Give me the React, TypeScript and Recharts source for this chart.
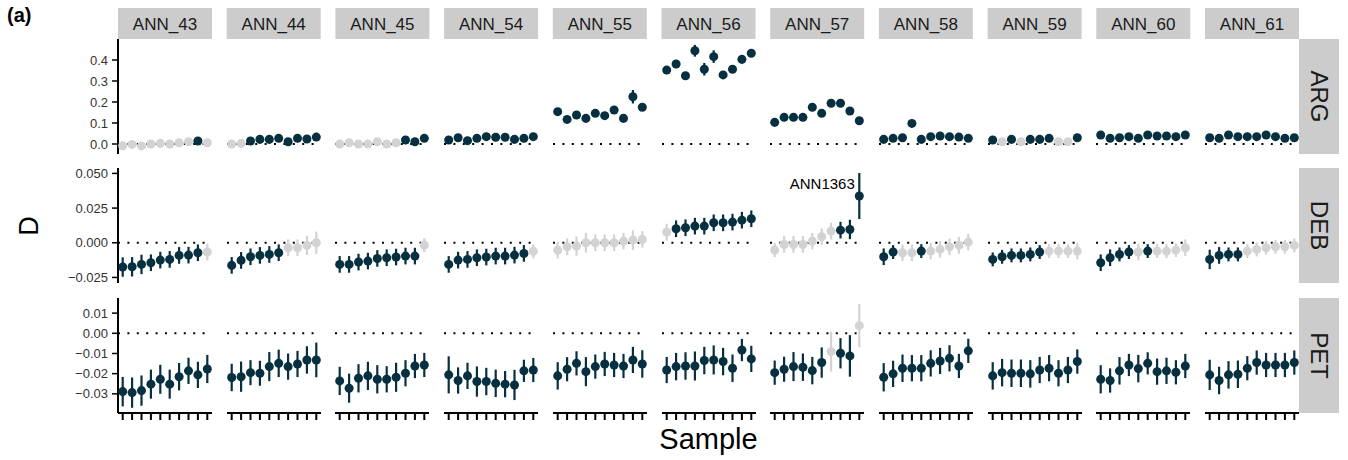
import {
  ErrorBar,
  ReferenceDot,
  ReferenceLine,
  Scatter,
  ScatterChart,
  XAxis,
  YAxis,
} from 'recharts'

const samples = ['ANN_43', 'ANN_44', 'ANN_45', 'ANN_54', 'ANN_55', 'ANN_56', 'ANN_57', 'ANN_58', 'ANN_59', 'ANN_60', 'ANN_61']
const groups = ['ARG', 'DEB', 'PET']

// D estimates, one list of 10 per sample
const argD = [
  [-0.008, -0.002, -0.009, 0.0, 0.003, 0.0, 0.006, 0.011, 0.014, 0.006],
  [0.0, 0.003, 0.014, 0.022, 0.022, 0.027, 0.011, 0.027, 0.024, 0.033],
  [0.0, 0.006, 0.0, 0.0, 0.011, 0.0, 0.006, 0.019, 0.011, 0.027],
  [0.019, 0.03, 0.016, 0.027, 0.035, 0.032, 0.032, 0.022, 0.027, 0.035],
  [0.154, 0.117, 0.138, 0.122, 0.146, 0.135, 0.162, 0.122, 0.225, 0.175],
  [0.352, 0.381, 0.325, 0.444, 0.356, 0.416, 0.329, 0.356, 0.403, 0.432],
  [0.103, 0.127, 0.127, 0.127, 0.175, 0.146, 0.194, 0.194, 0.157, 0.111],
  [0.022, 0.027, 0.03, 0.098, 0.022, 0.035, 0.038, 0.035, 0.033, 0.027],
  [0.019, 0.011, 0.022, 0.011, 0.022, 0.022, 0.027, 0.011, 0.011, 0.03],
  [0.043, 0.027, 0.03, 0.035, 0.027, 0.043, 0.038, 0.038, 0.035, 0.043],
  [0.03, 0.027, 0.043, 0.035, 0.035, 0.035, 0.043, 0.035, 0.027, 0.03],
]
const argE = [
  [0.008, 0.008, 0.008, 0.008, 0.008, 0.008, 0.008, 0.008, 0.008, 0.008],
  [0.008, 0.008, 0.008, 0.008, 0.008, 0.008, 0.008, 0.008, 0.008, 0.008],
  [0.008, 0.008, 0.008, 0.008, 0.008, 0.008, 0.008, 0.008, 0.008, 0.008],
  [0.008, 0.008, 0.008, 0.008, 0.008, 0.008, 0.008, 0.008, 0.008, 0.008],
  [0.012, 0.01, 0.012, 0.01, 0.012, 0.012, 0.012, 0.012, 0.032, 0.015],
  [0.015, 0.015, 0.012, 0.028, 0.03, 0.03, 0.015, 0.015, 0.015, 0.012],
  [0.01, 0.01, 0.01, 0.01, 0.012, 0.012, 0.012, 0.012, 0.012, 0.01],
  [0.008, 0.008, 0.008, 0.016, 0.008, 0.008, 0.008, 0.008, 0.008, 0.008],
  [0.008, 0.008, 0.008, 0.008, 0.008, 0.008, 0.008, 0.008, 0.008, 0.008],
  [0.008, 0.008, 0.008, 0.008, 0.008, 0.008, 0.008, 0.008, 0.008, 0.008],
  [0.008, 0.008, 0.008, 0.008, 0.008, 0.008, 0.008, 0.008, 0.008, 0.008],
]
const argSig = [
  [0, 0, 0, 0, 0, 0, 0, 0, 1, 0],
  [0, 0, 1, 1, 1, 1, 1, 1, 1, 1],
  [0, 0, 0, 0, 0, 0, 0, 1, 1, 1],
  [1, 1, 1, 1, 1, 1, 1, 1, 1, 1],
  [1, 1, 1, 1, 1, 1, 1, 1, 1, 1],
  [1, 1, 1, 1, 1, 1, 1, 1, 1, 1],
  [1, 1, 1, 1, 1, 1, 1, 1, 1, 1],
  [1, 1, 1, 1, 1, 1, 1, 1, 1, 1],
  [1, 0, 1, 0, 1, 1, 1, 0, 0, 1],
  [1, 1, 1, 1, 1, 1, 1, 1, 1, 1],
  [1, 1, 1, 1, 1, 1, 1, 1, 1, 1],
]

const debD = [
  [-0.0175, -0.0173, -0.0156, -0.0144, -0.0125, -0.012, -0.0091, -0.0089, -0.0072, -0.0067],
  [-0.0163, -0.0127, -0.0101, -0.0091, -0.0084, -0.0072, -0.0036, -0.0036, -0.0019, 0.0],
  [-0.0156, -0.0156, -0.0139, -0.0132, -0.0113, -0.0108, -0.0103, -0.0096, -0.0096, -0.0017],
  [-0.0156, -0.0125, -0.012, -0.0108, -0.0103, -0.0096, -0.0096, -0.0089, -0.0077, -0.0062],
  [-0.0053, -0.0029, -0.0024, 0.0, 0.0, 0.0, 0.0, 0.0012, 0.0019, 0.0024],
  [0.0077, 0.0101, 0.0108, 0.012, 0.012, 0.0144, 0.0144, 0.0149, 0.0163, 0.0173],
  [-0.0053, -0.0012, -0.0012, -0.0012, 0.0012, 0.0043, 0.0084, 0.0091, 0.0096, 0.0337],
  [-0.0101, -0.0067, -0.0072, -0.0072, -0.006, -0.006, -0.0048, -0.0029, -0.0019, 0.0005],
  [-0.012, -0.0101, -0.0091, -0.0091, -0.0084, -0.0067, -0.006, -0.006, -0.006, -0.006],
  [-0.0144, -0.0108, -0.0084, -0.0067, -0.0067, -0.006, -0.006, -0.006, -0.0053, -0.0036],
  [-0.012, -0.0091, -0.0084, -0.0084, -0.006, -0.0048, -0.0036, -0.0029, -0.0029, -0.0019],
]
const debE = [
  [0.007, 0.007, 0.007, 0.006, 0.006, 0.006, 0.006, 0.006, 0.006, 0.006],
  [0.006, 0.006, 0.006, 0.006, 0.006, 0.006, 0.006, 0.006, 0.007, 0.008],
  [0.006, 0.006, 0.006, 0.006, 0.006, 0.006, 0.006, 0.006, 0.006, 0.005],
  [0.006, 0.006, 0.006, 0.006, 0.006, 0.006, 0.006, 0.006, 0.006, 0.005],
  [0.006, 0.006, 0.007, 0.007, 0.006, 0.006, 0.006, 0.006, 0.007, 0.006],
  [0.006, 0.006, 0.006, 0.006, 0.006, 0.006, 0.006, 0.006, 0.006, 0.006],
  [0.005, 0.006, 0.006, 0.006, 0.006, 0.006, 0.006, 0.006, 0.007, 0.0166],
  [0.006, 0.005, 0.006, 0.006, 0.005, 0.006, 0.006, 0.006, 0.006, 0.006],
  [0.005, 0.005, 0.005, 0.005, 0.005, 0.005, 0.005, 0.005, 0.005, 0.006],
  [0.006, 0.006, 0.005, 0.005, 0.006, 0.005, 0.005, 0.005, 0.005, 0.006],
  [0.007, 0.006, 0.005, 0.005, 0.005, 0.005, 0.005, 0.005, 0.005, 0.005],
]
const debSig = [
  [1, 1, 1, 1, 1, 1, 1, 1, 1, 0],
  [1, 1, 1, 1, 1, 1, 0, 0, 0, 0],
  [1, 1, 1, 1, 1, 1, 1, 1, 1, 0],
  [1, 1, 1, 1, 1, 1, 1, 1, 1, 0],
  [0, 0, 0, 0, 0, 0, 0, 0, 0, 0],
  [0, 1, 1, 1, 1, 1, 1, 1, 1, 1],
  [0, 0, 0, 0, 0, 0, 0, 1, 1, 1],
  [1, 1, 0, 0, 1, 0, 0, 0, 0, 0],
  [1, 1, 1, 1, 1, 1, 0, 0, 0, 0],
  [1, 1, 1, 1, 0, 1, 0, 0, 0, 0],
  [1, 1, 1, 1, 0, 0, 0, 0, 0, 0],
]

const petD = [
  [-0.0289, -0.0294, -0.0284, -0.0252, -0.0228, -0.0252, -0.0215, -0.0186, -0.0206, -0.0177],
  [-0.0219, -0.0215, -0.0195, -0.0198, -0.0165, -0.0149, -0.0165, -0.0152, -0.0132, -0.0132],
  [-0.0236, -0.0272, -0.0223, -0.0211, -0.0228, -0.0228, -0.0218, -0.0198, -0.0162, -0.0157],
  [-0.0206, -0.0234, -0.0211, -0.0239, -0.0239, -0.0248, -0.0252, -0.0256, -0.0186, -0.0182],
  [-0.0211, -0.0178, -0.0149, -0.019, -0.0165, -0.0152, -0.0157, -0.0162, -0.0132, -0.0152],
  [-0.0182, -0.0165, -0.0162, -0.0162, -0.0135, -0.0132, -0.014, -0.0173, -0.0083, -0.0127],
  [-0.0195, -0.0178, -0.0165, -0.0168, -0.0185, -0.0145, -0.0091, -0.0099, -0.0112, 0.0038],
  [-0.0218, -0.0201, -0.0173, -0.0173, -0.0173, -0.0149, -0.0137, -0.0124, -0.0162, -0.0087],
  [-0.0211, -0.0195, -0.0198, -0.0198, -0.0201, -0.0182, -0.0173, -0.0198, -0.0182, -0.014],
  [-0.0228, -0.0234, -0.0186, -0.0157, -0.0175, -0.0149, -0.019, -0.0186, -0.0193, -0.0162],
  [-0.0206, -0.0234, -0.0206, -0.0203, -0.0173, -0.0145, -0.0157, -0.0157, -0.0157, -0.0145],
]
const petE = [
  [0.0073, 0.0075, 0.0075, 0.0072, 0.0072, 0.0072, 0.0068, 0.0065, 0.0065, 0.007],
  [0.0068, 0.0075, 0.0062, 0.0062, 0.0072, 0.0068, 0.0065, 0.0065, 0.0068, 0.0086],
  [0.007, 0.0072, 0.007, 0.007, 0.007, 0.0065, 0.0072, 0.0065, 0.006, 0.006],
  [0.0092, 0.0065, 0.0065, 0.0075, 0.0068, 0.0068, 0.0065, 0.0075, 0.0055, 0.006],
  [0.0068, 0.006, 0.006, 0.0072, 0.006, 0.006, 0.006, 0.006, 0.0065, 0.0068],
  [0.0065, 0.0068, 0.0068, 0.0072, 0.0068, 0.0072, 0.0068, 0.0068, 0.0055, 0.0065],
  [0.006, 0.0062, 0.0072, 0.0068, 0.0068, 0.0075, 0.0099, 0.0075, 0.0103, 0.0107],
  [0.007, 0.0065, 0.0068, 0.0065, 0.0065, 0.0065, 0.0065, 0.0065, 0.006, 0.006],
  [0.0068, 0.0068, 0.0068, 0.0068, 0.0068, 0.0065, 0.0065, 0.0065, 0.0065, 0.006],
  [0.007, 0.006, 0.0068, 0.0055, 0.0068, 0.0055, 0.0065, 0.0065, 0.006, 0.006],
  [0.0075, 0.0068, 0.0068, 0.0068, 0.006, 0.006, 0.006, 0.006, 0.006, 0.006],
]
const petSig = [
  [1, 1, 1, 1, 1, 1, 1, 1, 1, 1],
  [1, 1, 1, 1, 1, 1, 1, 1, 1, 1],
  [1, 1, 1, 1, 1, 1, 1, 1, 1, 1],
  [1, 1, 1, 1, 1, 1, 1, 1, 1, 1],
  [1, 1, 1, 1, 1, 1, 1, 1, 1, 1],
  [1, 1, 1, 1, 1, 1, 1, 1, 1, 1],
  [1, 1, 1, 1, 1, 1, 0, 1, 1, 0],
  [1, 1, 1, 1, 1, 1, 1, 1, 1, 1],
  [1, 1, 1, 1, 1, 1, 1, 1, 1, 1],
  [1, 1, 1, 1, 1, 1, 1, 1, 1, 1],
  [1, 1, 1, 1, 1, 1, 1, 1, 1, 1],
]

const yDomains = [
  [-0.0476, 0.5],
  [-0.029, 0.0539],
  [-0.0395, 0.0175],
]
const yTicks = [
  [0, 0.1, 0.2, 0.3, 0.4],
  [-0.025, 0, 0.025, 0.05],
  [-0.03, -0.02, -0.01, 0, 0.01],
]
const yDigits = [1, 3, 2]
const sampleTicks = [0, 1, 2, 3, 4, 5, 6, 7, 8, 9]

const flagged = { row: 1, col: 6, idx: 9, text: 'ANN1363' }

const DARK = '#06303F'
const GREY = '#D3D3D3'
const FONT = '"Liberation Sans", Arial, Helvetica, sans-serif'

const LEFT0 = 118
const PITCH = 108.7
const PANEL_W = 94
const ROW_TOP = [39, 168, 298]
const ROW_H = 115
const AXIS_W = 60
const XAXIS_H = 12
const PAD = 10

const allD = [argD, debD, petD]
const allE = [argE, debE, petE]
const allSig = [argSig, debSig, petSig]

function Panel({ row, col }: { row: number; col: number }) {
  const pts = allD[row][col].map((y, i) => ({
    x: i,
    y,
    e: allE[row][col][i],
    sig: allSig[row][col][i],
  }))
  const grey = pts.filter((p) => !p.sig)
  const dark = pts.filter((p) => p.sig)
  const first = col === 0
  const bottom = row === 2
  const left = LEFT0 + col * PITCH - (first ? AXIS_W : 0)
  const w = PANEL_W + (first ? AXIS_W : 0)
  const h = ROW_H + 2 * PAD + (bottom ? XAXIS_H : 0)
  const fmt = (v: number) => v.toFixed(yDigits[row]).replace('-', '\u2212')

  return (
    <div style={{ position: 'absolute', left, top: ROW_TOP[row] - PAD, width: w, height: h }}>
      <ScatterChart width={w} height={h} margin={{ top: PAD, right: 0, bottom: PAD, left: 0 }}>
        <XAxis
          type="number"
          dataKey="x"
          domain={[-0.5, 9.5]}
          ticks={sampleTicks}
          interval={0}
          allowDataOverflow
          hide={!bottom}
          height={XAXIS_H}
          tickFormatter={() => ''}
          tickSize={7}
          axisLine={{ stroke: '#000', strokeWidth: 2 }}
          tickLine={{ stroke: '#000', strokeWidth: 2 }}
        />
        <YAxis
          type="number"
          dataKey="y"
          domain={yDomains[row]}
          ticks={yTicks[row]}
          interval={0}
          allowDataOverflow
          hide={!first}
          width={AXIS_W}
          tickSize={6}
          tickMargin={4}
          tickFormatter={fmt}
          tick={{ fill: '#333', fontSize: 13, fontFamily: FONT }}
          axisLine={{ stroke: '#000', strokeWidth: 2 }}
          tickLine={{ stroke: '#000', strokeWidth: 1.5 }}
        />
        <ReferenceLine y={0} stroke="#000" strokeWidth={2} strokeDasharray="2 7.4" />
        <Scatter data={grey} fill={GREY} isAnimationActive={false}>
          <ErrorBar dataKey="e" direction="y" width={0} stroke={GREY} strokeWidth={2.2} />
        </Scatter>
        <Scatter data={dark} fill={DARK} isAnimationActive={false}>
          <ErrorBar dataKey="e" direction="y" width={0} stroke={DARK} strokeWidth={2.2} />
        </Scatter>
        {row === flagged.row && col === flagged.col && (
          <ReferenceDot
            x={flagged.idx}
            y={allD[row][col][flagged.idx]}
            r={0}
            shape={(p: any) => (
              <text x={p.cx - 4.5} y={p.cy - 7.5} textAnchor="end" fontSize={15} fontFamily={FONT} fill="#000">
                {flagged.text}
              </text>
            )}
          />
        )}
      </ScatterChart>
    </div>
  )
}

export default function App() {
  return (
    <div style={{ position: 'absolute', left: 0, top: 0, width: 1348, height: 460, background: '#fff', fontFamily: FONT }}>
      {groups.map((g, r) => samples.map((s, c) => <Panel key={g + s} row={r} col={c} />))}
      <svg width={1348} height={460} style={{ position: 'absolute', left: 0, top: 0, pointerEvents: 'none' }}>
        <text x={7} y={22} fontSize={20} fontWeight="bold" fontFamily={FONT} fill="#000">
          (a)
        </text>
        {samples.map((s, c) => (
          <g key={s}>
            <rect x={LEFT0 + c * PITCH} y={8} width={PANEL_W} height={31} fill="#CCCCCC" />
            <text
              x={LEFT0 + c * PITCH + PANEL_W / 2}
              y={24}
              textAnchor="middle"
              dominantBaseline="central"
              fontSize={17}
              fontFamily={FONT}
              fill="#1A1A1A"
            >
              {s}
            </text>
          </g>
        ))}
        {groups.map((g, r) => (
          <g key={g}>
            <rect x={1299} y={ROW_TOP[r]} width={40} height={ROW_H} fill="#CCCCCC" />
            <text
              transform={`translate(1319, ${ROW_TOP[r] + ROW_H / 2}) rotate(90)`}
              textAnchor="middle"
              dominantBaseline="central"
              fontSize={24}
              fontFamily={FONT}
              fill="#1A1A1A"
            >
              {g}
            </text>
          </g>
        ))}
        <text
          transform="translate(29, 226) rotate(-90)"
          textAnchor="middle"
          dominantBaseline="central"
          fontSize={27}
          fontFamily={FONT}
          fill="#000"
        >
          D
        </text>
        <text x={708.5} y={449} textAnchor="middle" fontSize={29} fontFamily={FONT} fill="#000">
          Sample
        </text>
      </svg>
    </div>
  )
}
